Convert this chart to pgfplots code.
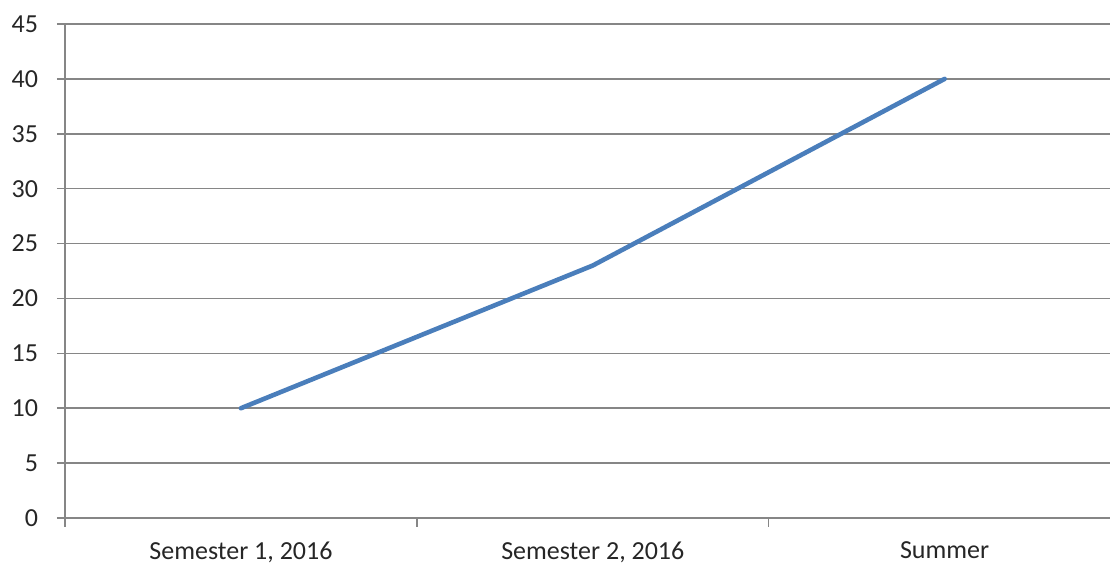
\documentclass[border=0pt]{standalone}
\usepackage{pgfplots}
\pgfplotsset{compat=1.18}
\usepackage{fontspec}
\setmainfont{Carlito}
\definecolor{gridgray}{HTML}{868686}
\definecolor{lineblue}{HTML}{4A7EBB}
\begin{document}
\begin{tikzpicture}
\begin{axis}[
  scale only axis,
  width=522.5pt, height=247pt,
  xmin=-0.5, xmax=2.47,
  ymin=0, ymax=45,
  axis x line*=bottom, axis y line*=left,
  axis line style={gridgray, line width=0.75pt},
  xtick={0,1,2},
  xticklabels={{Semester 1, 2016},{Semester 2, 2016},{Summer}},
  major x tick style={draw=none},
  minor xtick={-0.5,0.5,1.5},
  minor x tick style={gridgray, line width=0.75pt},
  minor tick length=4.5pt,
  ytick={0,5,...,45},
  ymajorgrids,
  major grid style={gridgray, line width=0.75pt},
  y tick style={gridgray, line width=0.75pt},
  major tick length=4pt,
  tick align=outside,
  /pgf/number format/assume math mode=true,
  tick label style={font=\fontsize{13}{15}\selectfont, text=black!85},
  yticklabel style={xshift=-6pt},
  xticklabel style={yshift=-4.5pt},
  clip=false,
]
\addplot[lineblue, line width=2.3pt, line join=round, line cap=round] coordinates {(0,10) (1,23) (2,40)};
\end{axis}
\pgfresetboundingbox
\path[use as bounding box] (-32.5pt,-24pt) rectangle (522.5pt,259pt);
\end{tikzpicture}
\end{document}
